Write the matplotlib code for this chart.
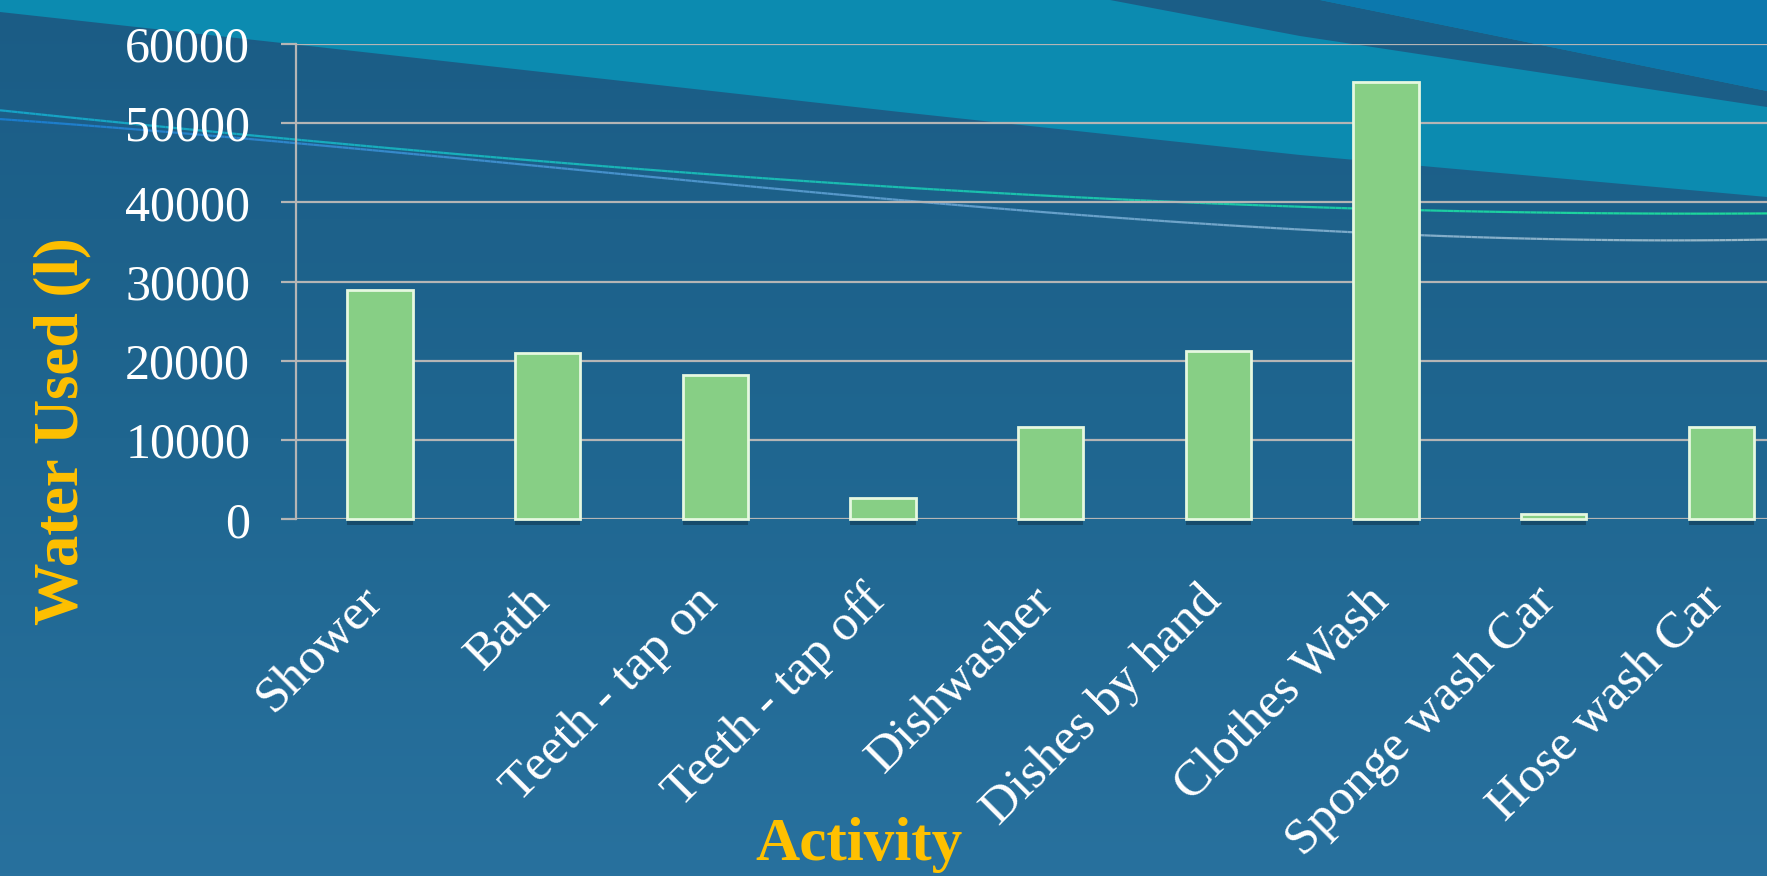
import numpy as np
import matplotlib
matplotlib.use("Agg")
import matplotlib.pyplot as plt
import matplotlib.patheffects as pe
import matplotlib.transforms as mtransforms
from matplotlib.collections import LineCollection
from matplotlib.colors import LinearSegmentedColormap

# data
activities = ["Shower", "Bath", "Teeth - tap on", "Teeth - tap off", "Dishwasher",
              "Dishes by hand", "Clothes Wash", "Sponge wash Car", "Hose wash Car"]
water_used = [29000, 21000, 18200, 2700, 11700, 21200, 55200, 700, 11600]
y_ticks = [0, 10000, 20000, 30000, 40000, 50000, 60000]

W, H = 1767, 876
fig = plt.figure(figsize=(W / 100, H / 100), dpi=100)

# ---- slide background ----
bg = fig.add_axes([0, 0, 1, 1], zorder=-1)
bg.set_xlim(0, W)
bg.set_ylim(H, 0)
bg.axis("off")
grad = LinearSegmentedColormap.from_list("bgv", ["#1b5c85", "#1f6690", "#28719e"])
bg.imshow(np.linspace(0, 1, 256).reshape(-1, 1), cmap=grad, aspect="auto",
          extent=[0, W, H, 0], zorder=0)

# teal band across the top
bg.fill([0, 0, 300, 900, 1300, W, W], [0, 12, 45, 112, 155, 197, 0],
        color="#0c8bb0", lw=0, zorder=1)
# dark stripe and blue corner at the top right
bg.fill([1110, 1300, W, W, 1320], [0, 36, 107, 91, 0], color="#1b5e87", lw=0, zorder=2)
bg.fill([1320, W, W], [0, 91, 0], color="#0c78ad", lw=0, zorder=3)


def thin_curve(px, py, c1, c2):
    coef = np.polyfit(px, py, 3)
    xs = np.linspace(0, W, 300)
    ys = np.polyval(coef, xs)
    pts = np.column_stack([xs, ys]).reshape(-1, 1, 2)
    segs = np.concatenate([pts[:-1], pts[1:]], axis=1)
    cm = LinearSegmentedColormap.from_list("c", [c1, c2])
    lc = LineCollection(segs, cmap=cm, linewidths=1.6, zorder=4)
    lc.set_array(np.linspace(0, 1, len(segs)))
    bg.add_collection(lc)


thin_curve([0, 400, 900, 1453, 1767], [110, 150, 186, 212, 213], "#16a2c6", "#1ed89a")
thin_curve([0, 400, 900, 1342, 1591, 1767], [119, 153, 200, 231, 241, 239], "#1a7ccc", "#9ab8c8")

# ---- chart ----
left = 296 / W
bottom = 1 - 519.3 / H
height = (519.3 - 44) / H
width = 9 * 167.7 / W
ax = fig.add_axes([left, bottom, width, height], zorder=1)
ax.set_facecolor("none")

x = np.arange(len(activities))
bars = ax.bar(x, water_used, width=0.39, color="#87cf85", edgecolor="#e6f8e0",
              linewidth=2.0, zorder=3)
for b in bars:
    b.set_path_effects([pe.SimplePatchShadow(offset=(0, -4), shadow_rgbFace="#0d2f45", alpha=0.5),
                        pe.Normal()])
    b.set_clip_on(False)

ax.set_xlim(-0.5, len(activities) - 0.5)
ax.set_ylim(0, 60000)
ax.set_yticks(y_ticks)
ax.set_yticklabels([str(v) for v in y_ticks])
ax.yaxis.grid(True, color="#b5b5b5", linewidth=1.6, zorder=1)
ax.set_axisbelow(True)

for s in ["top", "right", "bottom"]:
    ax.spines[s].set_visible(False)
ax.spines["left"].set_color("#b5b5b5")
ax.spines["left"].set_linewidth(1.6)

ax.tick_params(axis="y", length=11, width=1.6, color="#b5b5b5", pad=22,
               labelcolor="white", labelsize=36)
for lab in ax.get_yticklabels():
    lab.set_family("Liberation Serif")

ax.set_xticks(x)
ax.set_xticklabels(activities, rotation=45, ha="right", va="top",
                   family="Liberation Serif", fontsize=37, color="white")
ax.tick_params(axis="x", length=0, pad=42)
shift = mtransforms.ScaledTranslation(0.12, 0.0, fig.dpi_scale_trans)
for lab in ax.get_xticklabels():
    lab.set_transform(lab.get_transform() + shift)

fig.text(62 / W, 1 - 431 / H, "Water Used (l)", rotation=90, ha="center", va="center",
         color="#ffc000", fontsize=45, fontweight="bold", family="Liberation Serif")
fig.text(859 / W, 1 - 860 / H, "Activity", ha="center", va="baseline",
         color="#ffc000", fontsize=44, fontweight="bold", family="Liberation Serif")

fig.savefig("out.png", dpi=100)
